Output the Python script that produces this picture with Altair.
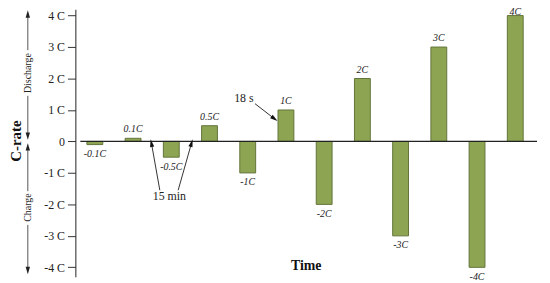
import altair as alt
import pandas as pd

# Data
slots = [1, 2, 3, 4, 5, 6, 7, 8, 9, 10, 11, 12]
c_rates = [-0.1, 0.1, -0.5, 0.5, -1, 1, -2, 2, -3, 3, -4, 4]
bar_labels = ["-0.1C", "0.1C", "-0.5C", "0.5C", "-1C", "1C", "-2C", "2C", "-3C", "3C", "-4C", "4C"]
y_ticks = [-4, -3, -2, -1, 0, 1, 2, 3, 4]

SERIF = "Liberation Serif"
XDOM = [0.62, 12.57]
YDOM = [-4.3, 4.2]
W, H = 471, 270

df = pd.DataFrame({"slot": slots, "c": c_rates, "label": bar_labels})
df["zero"] = 0
df["ly"] = [v + (0.28 if v > 0 else -0.3) for v in c_rates]
df.loc[df["c"] == 4, "ly"] = 4.1

xs = alt.Scale(domain=XDOM, nice=False, zero=False)
ys = alt.Scale(domain=YDOM, nice=False, zero=False)

yaxis = alt.Axis(
    values=y_ticks,
    labelExpr="datum.value == 0 ? '0' : datum.value + ' C'",
    labelFont=SERIF, labelFontSize=12, labelColor="#222",
    tickSize=8, tickColor="#333", domainColor="#222", grid=False,
    title=None, labelPadding=3, labelOverlap=False,
)


def Y(field):
    return alt.Y(field, scale=ys, axis=yaxis)


def X(field):
    return alt.X(field, scale=xs, axis=None)


bars = alt.Chart(df).mark_bar(
    size=16, color="#8da553", stroke="#62733a", strokeWidth=1
).encode(x=X("slot:Q"), y=Y("c:Q"), y2="zero:Q")

labels = alt.Chart(df).mark_text(
    font=SERIF, fontSize=10, fontStyle="italic", color="#222"
).encode(x=X("slot:Q"), y=Y("ly:Q"), text="label:N")

zero_line = alt.Chart(pd.DataFrame({"x": [XDOM[0]], "x2": [XDOM[1]], "y": [0]})).mark_rule(
    color="#222", strokeWidth=1.2
).encode(x=X("x:Q"), x2="x2:Q", y=Y("y:Q"))

# Annotation arrows (data coordinates)
arr = pd.DataFrame({
    "x": [2.70, 3.18, 5.19],
    "y": [-1.55, -1.55, 1.20],
    "x2": [2.48, 3.53, 5.70],
    "y2": [-0.05, -0.05, 0.72],
    "ang": [349, 16, 127],
})
arrow_lines = alt.Chart(arr).mark_rule(color="#333", strokeWidth=1).encode(
    x=X("x:Q"), y=Y("y:Q"), x2="x2:Q", y2="y2:Q"
)
arrow_heads = alt.Chart(arr).mark_point(
    shape="M0,-1L0.55,1L-0.55,1Z", filled=True, color="#111", size=60, opacity=1
).encode(x=X("x2:Q"), y=Y("y2:Q"), angle=alt.Angle("ang:Q", scale=None))

notes = pd.DataFrame({"x": [2.95, 4.90], "y": [-1.73, 1.39], "t": ["15 min", "18 s"]})
note_text = alt.Chart(notes).mark_text(font=SERIF, fontSize=12, color="#222").encode(
    x=X("x:Q"), y=Y("y:Q"), text="t:N"
)

# Discharge / Charge side arrows
side = pd.DataFrame({
    "y": [4.0, 1.45, -0.2, -2.65],
    "y2": [2.9, 0.2, -1.58, -4.05],
})
side_lines = alt.Chart(side).mark_rule(color="#555", strokeWidth=1).encode(
    x=alt.value(-48), y=Y("y:Q"), y2="y2:Q"
)
heads = pd.DataFrame({"y": [4.05, 0.17, -0.17, -4.1], "ang": [0, 180, 0, 180]})
side_heads = alt.Chart(heads).mark_point(
    shape="M0,-1L0.6,1L-0.6,1Z", filled=True, color="#222", size=55, opacity=1
).encode(x=alt.value(-48), y=Y("y:Q"), angle=alt.Angle("ang:Q", scale=None))
side_txt = pd.DataFrame({"y": [2.17, -2.1], "t": ["Discharge", "Charge"]})
side_text = alt.Chart(side_txt).mark_text(
    font=SERIF, fontSize=10, angle=270, color="#222"
).encode(x=alt.value(-48), y=Y("y:Q"), text="t:N")

ytitle = alt.Chart(pd.DataFrame({"t": ["C-rate"]})).mark_text(
    font=SERIF, fontSize=15, fontWeight="bold", angle=270, color="#111"
).encode(x=alt.value(-60), y=alt.value(133), text="t:N")

xtitle = alt.Chart(pd.DataFrame({"t": ["Time"]})).mark_text(
    font=SERIF, fontSize=14, fontWeight="bold", color="#111"
).encode(x=alt.value(233), y=alt.value(259), text="t:N")

chart = alt.layer(
    bars, zero_line, labels, arrow_lines, arrow_heads, note_text,
    side_lines, side_heads, side_text, ytitle, xtitle
).properties(
    width=W, height=H,
    padding={"left": 68, "top": 0, "right": 0, "bottom": 5},
    autosize=alt.AutoSizeParams(type="none"),
    background="white",
).configure_view(stroke=None).configure_axis(
    labelFont=SERIF, labelFontSize=12
).configure_text(font=SERIF)

chart.save("out.html", embed_options={"renderer": "svg", "actions": False})
